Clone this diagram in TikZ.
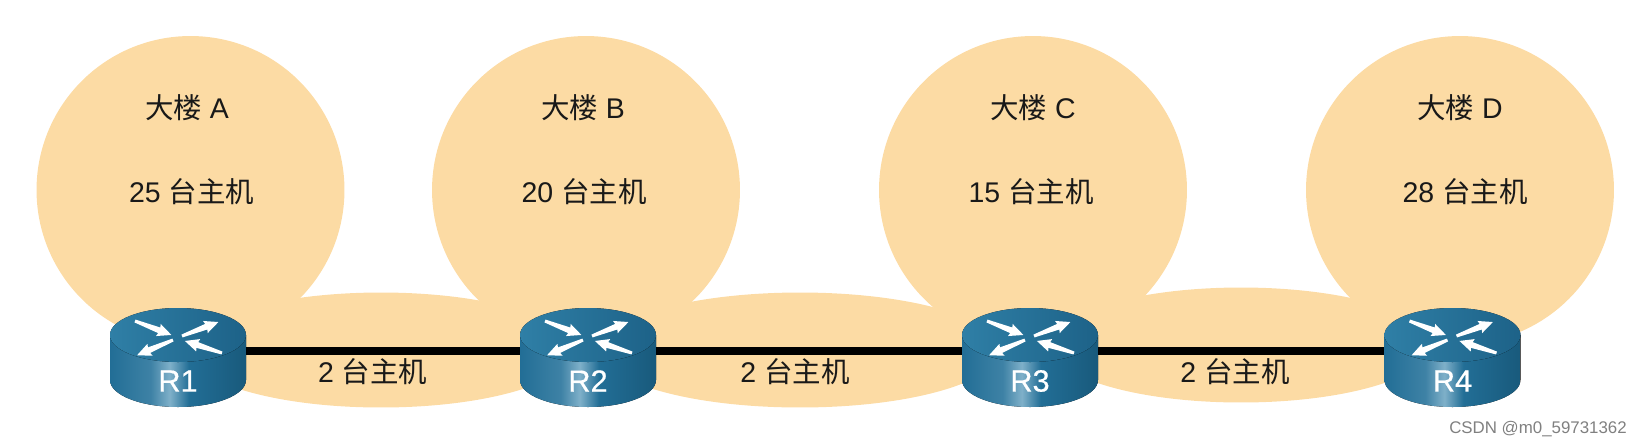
\documentclass[tikz,border=0pt]{standalone}
\usepackage{fontspec}
\setmainfont{Liberation Sans}
\newfontfamily\cjk{Noto Sans CJK SC}
\newfontfamily\routerfont[FakeBold=0.5]{Liberation Sans}
\usepackage{xcolor}
\usetikzlibrary{arrows.meta, shapes.geometric, positioning}

\definecolor{blobfill}{HTML}{FCDBA4}
\definecolor{sidedark}{HTML}{14506F}
\definecolor{sidemid}{HTML}{226E96}
\definecolor{sidelight}{HTML}{7FB0C9}
\definecolor{topleft}{HTML}{2F7FA6}
\definecolor{topright}{HTML}{1D6288}

\pgfdeclarehorizontalshading{routerside}{100bp}{
    color(0bp)=(sidemid!70!sidedark);
    color(25bp)=(sidemid);
    color(40bp)=(sidemid!70!sidelight);
    color(47bp)=(sidelight);
    color(54bp)=(sidemid);
    color(85bp)=(sidedark);
    color(100bp)=(sidedark!80!sidemid)
}

% #1 name, #2 centre x, #3 label
\newcommand{\routericon}[3]{
    \fill [shading=routerside, shading angle=0]
        (#2+68,335) -- (#2+68,380) arc [start angle=0, end angle=180, x radius=68, y radius=27]
        -- (#2-68,335) -- cycle;
    \fill [left color=topleft, right color=topright]
        (#2,335) ellipse [x radius=68, y radius=27];
    \foreach \ax/\ay/\ang in {-43/-14/-21, 4/1/21, -5/5/203, 44/18/162} {
        \fill [white, shift={(#2+\ax,335+\ay)}, rotate=\ang]
            (0,-1.5) -- (26,-3) -- (25,-6.5) -- (39,0) -- (25,6.5) -- (26,3) -- (0,1.5) -- cycle;
    }
    \node (#1) [routerbody] at (#2,351) {};
    \node (#1label) [routerlabel] at (#2,381) {#3};
}

\begin{document}
\begin{tikzpicture}[
    x=0.02cm, y=-0.02cm,
    blob/.style={
        circle,
        minimum size=6.16cm,
        inner sep=0pt,
        fill=blobfill
    },
    linkblob/.style={
        ellipse,
        minimum height=2.3cm,
        inner sep=0pt,
        fill=blobfill
    },
    textlabel/.style={font=\fontsize{16.2}{18}\selectfont, text=black!90, inner sep=0pt},
    routerbody/.style={rectangle, minimum width=2.72cm, minimum height=0.5cm, inner sep=0pt},
    routerlabel/.style={font=\routerfont\fontsize{17.5}{19}\selectfont, text=white, inner sep=0pt},
    link/.style={black, line width=4.2pt},
    watermark/.style={font=\fontsize{9.6}{12}\selectfont, text=black!50, inner sep=0pt}
]
\useasboundingbox (0,0) rectangle (1641,447);

\node (blobA) [blob] at (190.5,190) {};
\node (blobB) [blob] at (586,190) {};
\node (blobC) [blob] at (1033,190) {};
\node (blobD) [blob] at (1460,190) {};

\node (linkAB) [linkblob, minimum width=7.72cm] at (381,350) {};
\node (linkBC) [linkblob, minimum width=8cm] at (800,350) {};
\node (linkCD) [linkblob, minimum width=7.64cm] at (1241,345) {};

\routericon{r1}{178}{R1}
\routericon{r2}{588}{R2}
\routericon{r3}{1030}{R3}
\routericon{r4}{1452.5}{R4}

\draw [link] (r1) -- (r2);
\draw [link] (r2) -- (r3);
\draw [link] (r3) -- (r4);

\node (nameA) [textlabel] at (187,108) {{\cjk 大楼} A};
\node (nameB) [textlabel] at (583,108) {{\cjk 大楼} B};
\node (nameC) [textlabel] at (1033,108) {{\cjk 大楼} C};
\node (nameD) [textlabel] at (1460,108) {{\cjk 大楼} D};

\node (hostsA) [textlabel] at (191.5,191.5) {25 {\cjk 台主机}};
\node (hostsB) [textlabel] at (584,191.5) {20 {\cjk 台主机}};
\node (hostsC) [textlabel] at (1031,191.5) {15 {\cjk 台主机}};
\node (hostsD) [textlabel] at (1465,191.5) {28 {\cjk 台主机}};

\node (hostsAB) [textlabel] at (372.6,371.5) {2 {\cjk 台主机}};
\node (hostsBC) [textlabel] at (795,371.5) {2 {\cjk 台主机}};
\node (hostsCD) [textlabel] at (1235,371.5) {2 {\cjk 台主机}};

\node (mark) [watermark] at (1538,429) {CSDN @m0\_59731362};

\end{tikzpicture}
\end{document}
